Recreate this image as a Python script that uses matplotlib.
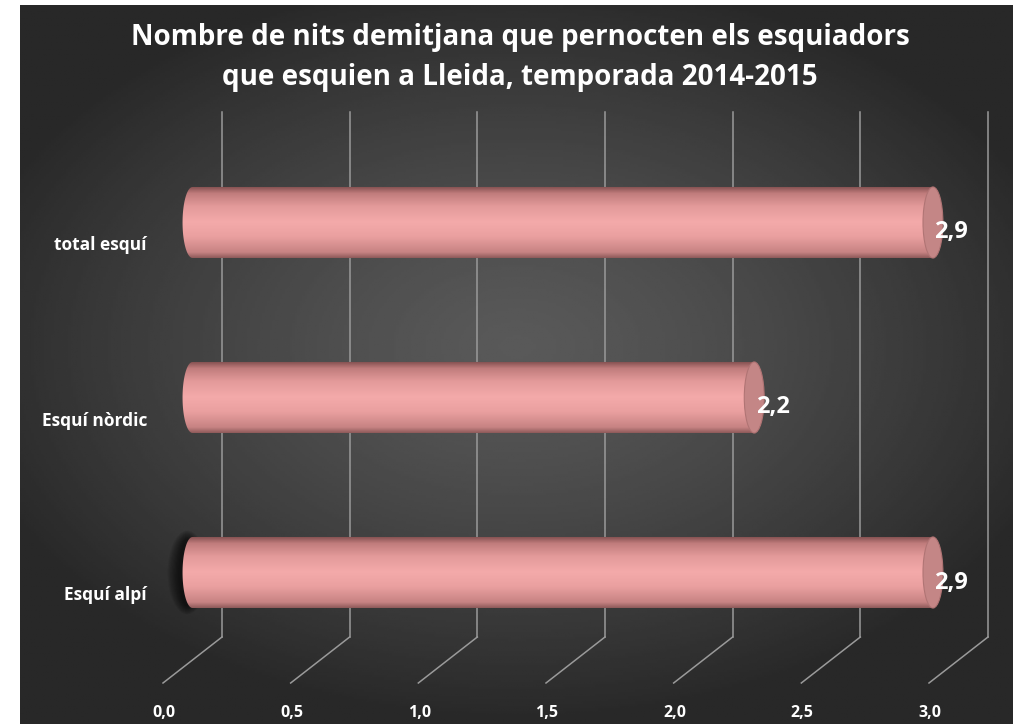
import numpy as np
import matplotlib as mpl
from matplotlib import pyplot as plt
from matplotlib.path import Path
from matplotlib.patches import PathPatch, Ellipse
from matplotlib.transforms import offset_copy
from matplotlib.colors import LinearSegmentedColormap

mpl.rcParams['font.family'] = ['Open Sans', 'DejaVu Sans']

categories = ['Esquí alpí', 'Esquí nòrdic', 'total esquí']
values = [2.9, 2.2, 2.9]
value_labels = ['2,9', '2,2', '2,9']
xticks = [0.0, 0.5, 1.0, 1.5, 2.0, 2.5, 3.0]
xtick_labels = ['0,0', '0,5', '1,0', '1,5', '2,0', '2,5', '3,0']
title = 'Nombre de nits demitjana que pernocten els esquiadors\nque esquien a Lleida, temporada 2014-2015'

W, H, DPI = 1013, 724, 100
fig = plt.figure(figsize=(W / DPI, H / DPI), dpi=DPI, facecolor='white')

# dark radial background panel
bg = fig.add_axes([20 / W, 0, 1 - 20 / W, 1 - 5 / H])
bg.set_axis_off()
yy, xx = np.mgrid[-1:1:300j, -1:1:400j]
r = np.sqrt((xx * 0.95) ** 2 + ((yy + 0.05) * 1.05) ** 2)
shade = np.clip(0.35 - 0.17 * r ** 1.3, 0.16, 0.35)
bg.imshow(shade, cmap='gray', vmin=0, vmax=1, aspect='auto', extent=[0, 1, 0, 1])

# main axes: data coords = back wall of the 3d box
ax = fig.add_axes([0, 0, 1, 1])
ax.set_axis_off()
ax.patch.set_alpha(0)
ppu = 255.33
ax.set_xlim(-222 / ppu, (W - 222) / ppu)
ax.set_ylim((549.5 - H) / 175, 549.5 / 175)

grid_col = '#9a9a9a'
front = offset_copy(ax.transData, fig=fig, x=-59, y=-46, units='dots')
mid = offset_copy(ax.transData, fig=fig, x=-29.5, y=-23, units='dots')
inv = ax.transData.inverted()

for v in xticks:
    ax.plot([v, v], [-0.5, 2.5], color=grid_col, lw=1.1, zorder=1)
    # floor depth line from back to front
    q0 = inv.transform(ax.transData.transform((v, -0.5)))
    q1 = inv.transform(front.transform((v, -0.5)))
    ax.plot([q0[0], q1[0]], [q0[1], q1[1]], color=grid_col, lw=1.1, zorder=1)

for v, lab in zip(xticks, xtick_labels):
    ax.text(v, -0.5, lab, transform=offset_copy(ax.transData, fig=fig, x=-58, y=-76, units='dots'),
            ha='center', va='center', color='white', fontsize=11.5, fontweight='bold')

bar_cmap = LinearSegmentedColormap.from_list('cyl', [
    (0.0, '#8e5a5a'), (0.08, '#c78383'), (0.3, '#eaa0a0'), (0.5, '#f4aaaa'),
    (0.72, '#e39a9a'), (0.9, '#c07c7c'), (1.0, '#7e4c4c')])
grad = np.linspace(0, 1, 256).reshape(-1, 1)

half = 0.203
cap_w = 0.078
for i, (cat, val, lab) in enumerate(zip(categories, values, value_labels)):
    y0, y1 = i - half, i + half
    # body outline: rounded left end + straight edges
    th = np.linspace(np.pi / 2, 3 * np.pi / 2, 40)
    left = np.column_stack([cap_w / 2 * np.cos(th), i + half * np.sin(th)])
    verts = np.vstack([[val, y1], left, [val, y0], [val, y1]])
    body = PathPatch(Path(verts), transform=mid, facecolor='none', edgecolor='none')
    ax.add_patch(body)
    if i == 0:
        # soft shadow behind the first bar
        for k in range(10):
            sh = Ellipse((-0.02, i), cap_w * (0.9 + 0.12 * k), half * 2 * (0.95 + 0.025 * k),
                         transform=mid, facecolor='black', alpha=0.08, edgecolor='none', zorder=2)
            ax.add_patch(sh)
    im = ax.imshow(grad, cmap=bar_cmap, aspect='auto', extent=[-0.1, val, y1, y0],
                   transform=mid, zorder=3)
    im.set_clip_path(body)
    cap = Ellipse((val, i), cap_w, half * 2, transform=mid,
                  facecolor='#c48686', edgecolor='#b07474', lw=0.8, zorder=4)
    ax.add_patch(cap)
    ax.text(val, i, lab, transform=offset_copy(ax.transData, fig=fig, x=-28, y=-33, units='dots'),
            ha='left', va='center', color='white', fontsize=17, fontweight='bold', zorder=5)
    ax.text(-0.0, i, cat, transform=offset_copy(ax.transData, fig=fig, x=-75, y=-46, units='dots'),
            ha='right', va='center', color='white', fontsize=12.5, fontweight='bold', zorder=5)

ax.set_xlim(-222 / ppu, (W - 222) / ppu)
ax.set_ylim((549.5 - H) / 175, 549.5 / 175)

fig.text(520 / W, 1 - 58 / H, title, ha='center', va='center', color='white',
         fontsize=20, fontweight='bold', linespacing=1.5)

fig.savefig('out.png', dpi=DPI, facecolor=fig.get_facecolor())
